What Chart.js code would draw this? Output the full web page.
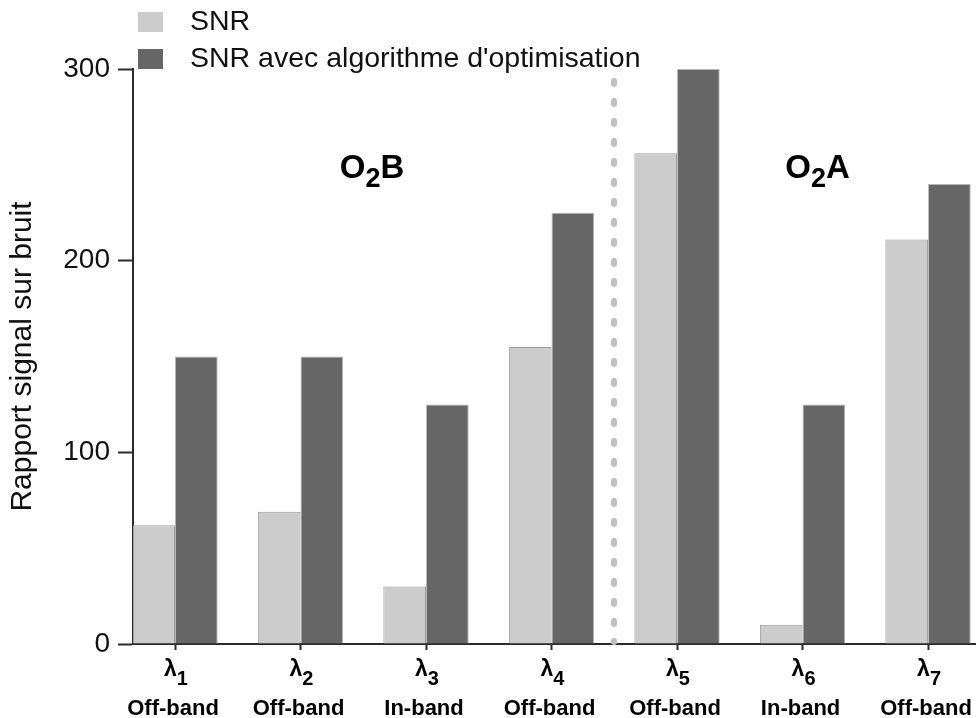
<!DOCTYPE html>
<html><head><meta charset="utf-8">
<script src="https://cdn.jsdelivr.net/npm/chart.js@4"></script>
<style>html,body{margin:0;padding:0;background:#fff}canvas{display:block}</style>
</head><body>
<canvas id="c" width="976" height="718"></canvas>
<script>
// ---- data ----
const lambdaSubscripts = ['1', '2', '3', '4', '5', '6', '7'];
const bandLabels = ['Off-band', 'Off-band', 'In-band', 'Off-band', 'Off-band', 'In-band', 'Off-band'];
const seriesNames = ['SNR', "SNR avec algorithme d'optimisation"];
const snrValues = [62, 69, 30, 155, 256, 10, 211];
const snrOptValues = [150, 150, 125, 225, 300, 125, 240];
const yTickValues = [0, 100, 200, 300];
const regionLabels = [['O', '2', 'B'], ['O', '2', 'A']];
const yAxisTitle = 'Rapport signal sur bruit';

const FONT = "'Liberation Sans', Arial, Helvetica, sans-serif";
const AXIS = '#2b2b2b';
const toPoints = vals => vals.map((v, i) => ({ x: i, y: v }));

const overlay = {
  id: 'overlay',
  afterDraw(chart) {
    const ctx = chart.ctx;
    const xs = chart.scales.x, ys = chart.scales.y;
    ctx.save();
    // dotted separator between the two bands
    const sx = Math.round(xs.getPixelForValue(3.5));
    ctx.strokeStyle = '#c0c0c0';
    ctx.lineWidth = 6;
    ctx.lineCap = 'round';
    ctx.setLineDash([3, 17]);
    ctx.beginPath();
    ctx.moveTo(sx, 81);
    ctx.lineTo(sx, ys.getPixelForValue(0) - 2);
    ctx.stroke();
    ctx.setLineDash([]);

    // legend
    chart.data.datasets.forEach((ds, k) => {
      const by = 12 + k * 37;
      ctx.fillStyle = ds.backgroundColor;
      ctx.fillRect(138, by, 25, 20);
      ctx.fillStyle = '#111';
      ctx.font = '28.5px ' + FONT;
      ctx.textBaseline = 'middle';
      ctx.textAlign = 'left';
      ctx.fillText(ds.label, 190, by + 10);
    });

    // region labels
    const regionX = [1.57, 5.12];
    regionLabels.forEach((parts, k) => {
      const cx = xs.getPixelForValue(regionX[k]);
      const base = ys.getPixelForValue(243);
      const mainF = 'bold 33px ' + FONT, subF = 'bold 27px ' + FONT;
      ctx.font = mainF; const w0 = ctx.measureText(parts[0]).width; const w2 = ctx.measureText(parts[2]).width;
      ctx.font = subF; const w1 = ctx.measureText(parts[1]).width;
      let x = cx - (w0 + w1 + w2) / 2;
      ctx.fillStyle = '#000';
      ctx.textAlign = 'left';
      ctx.textBaseline = 'alphabetic';
      ctx.font = mainF; ctx.fillText(parts[0], x, base); x += w0;
      ctx.font = subF; ctx.fillText(parts[1], x, base + 9); x += w1;
      ctx.font = mainF; ctx.fillText(parts[2], x, base);
    });

    // x labels
    lambdaSubscripts.forEach((s, i) => {
      const cx = xs.getPixelForValue(i);
      const lf = 'bold 23px ' + FONT, sf = 'bold 20px ' + FONT;
      ctx.font = lf; const wl = ctx.measureText('λ').width;
      ctx.font = sf; const ws = ctx.measureText(s).width;
      let x = cx - (wl + ws) / 2 + 1;
      ctx.fillStyle = '#000';
      ctx.textAlign = 'left';
      ctx.textBaseline = 'alphabetic';
      ctx.font = lf; ctx.fillText('λ', x, 676);
      ctx.font = sf; ctx.fillText(s, x + wl, 685);
      ctx.font = 'bold 22px ' + FONT;
      ctx.textAlign = 'center';
      ctx.fillText(bandLabels[i], cx - 2, 715);
    });
    ctx.restore();
  }
};

new Chart(document.getElementById('c'), {
  type: 'bar',
  data: {
    datasets: [
      { label: seriesNames[0], data: toPoints(snrValues), backgroundColor: '#cccccc', borderColor: '#9a9a9a', borderWidth: 1, borderSkipped: 'bottom', categoryPercentage: 0.68, barPercentage: 1 },
      { label: seriesNames[1], data: toPoints(snrOptValues), backgroundColor: '#666666', borderColor: '#b5b5b5', borderWidth: 1, borderSkipped: 'bottom', categoryPercentage: 0.68, barPercentage: 1 }
    ]
  },
  options: {
    responsive: false,
    devicePixelRatio: 1,
    animation: false,
    layout: { padding: { top: 69, left: 0, right: 0, bottom: 0 } },
    plugins: { legend: { display: false }, tooltip: { enabled: false } },
    scales: {
      x: {
        type: 'linear', min: -0.3347, max: 6.382, offset: false,
        afterBuildTicks: s => { s.ticks = lambdaSubscripts.map((_, i) => ({ value: i })); },
        ticks: { display: false },
        grid: { offset: false, drawOnChartArea: false, tickLength: 6, tickWidth: 2, tickColor: AXIS },
        border: { color: AXIS, width: 2 },
        afterFit: s => { s.height = 74; }
      },
      y: {
        min: 0, max: 300,
        afterBuildTicks: s => { s.ticks = yTickValues.map(v => ({ value: v })); },
        ticks: { font: { family: FONT, size: 28 }, color: '#111', padding: 8 },
        grid: { drawOnChartArea: false, tickLength: 15, tickWidth: 2, tickColor: AXIS },
        border: { color: AXIS, width: 2 },
        title: { display: true, text: yAxisTitle, font: { family: FONT, size: 30 }, color: '#111', padding: { top: 5, bottom: 0 } },
        afterFit: s => { s.width = 133; }
      }
    }
  },
  plugins: [overlay]
});
</script>
</body></html>
